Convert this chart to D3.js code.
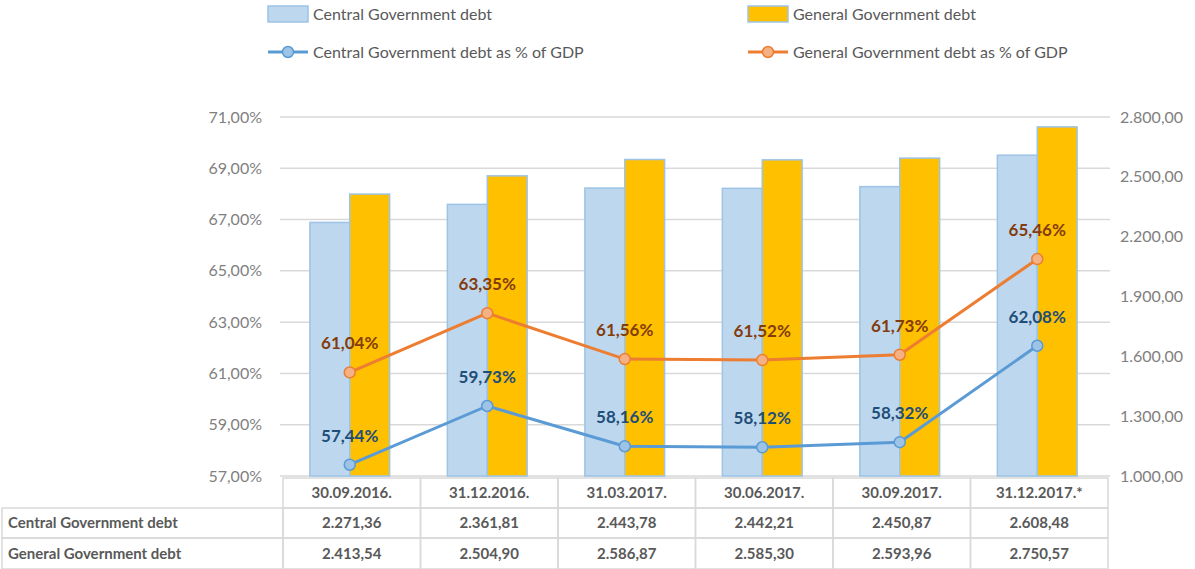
<!DOCTYPE html>
<html>
<head>
<meta charset="utf-8">
<script src="https://cdn.jsdelivr.net/npm/d3@7"></script>
<style>
  body { margin: 0; background: #fff; }
  svg { font-family: Lato, "Open Sans", sans-serif; }
</style>
</head>
<body>
<div id="chart"></div>
<script>
// data
const categories = ['30.09.2016.', '31.12.2016.', '31.03.2017.', '30.06.2017.', '30.09.2017.', '31.12.2017.*'];
const centralDebt = [2271.36, 2361.81, 2443.78, 2442.21, 2450.87, 2608.48];
const generalDebt = [2413.54, 2504.90, 2586.87, 2585.30, 2593.96, 2750.57];
const centralPct = [57.44, 59.73, 58.16, 58.12, 58.32, 62.08];
const generalPct = [61.04, 63.35, 61.56, 61.52, 61.73, 65.46];
const leftTicks = [57, 59, 61, 63, 65, 67, 69, 71];
const rightTicks = [1000, 1300, 1600, 1900, 2200, 2500, 2800];

const W = 1195, H = 569;
const plot = { left: 283, right: 1108, top: 117, bottom: 476 };

const svg = d3.select('#chart').append('svg')
    .attr('width', W).attr('height', H);

const x = d3.scaleBand().domain(categories).range([plot.left, plot.right]).padding(0);
const yL = d3.scaleLinear().domain([57, 71]).range([plot.bottom, plot.top]);
const yR = d3.scaleLinear().domain([1000, 2800]).range([plot.bottom, plot.top]);
const barW = x.bandwidth() * 0.29;
const cx = c => x(c) + x.bandwidth() / 2 - 2;

// number formatting with comma decimal and dot thousands
const loc = d3.formatLocale({ decimal: ',', thousands: '.', grouping: [3], currency: ['', ''] });
const fmtPct = v => loc.format(',.2f')(v) + '%';
const fmtNum = loc.format(',.2f');

// gridlines
svg.append('g').selectAll('line').data(leftTicks).join('line')
    .attr('x1', plot.left - 3).attr('x2', plot.right + 2)
    .attr('y1', d => yL(d)).attr('y2', d => yL(d))
    .attr('stroke', '#d9d9d9').attr('stroke-width', 1.5);

// left axis labels
svg.append('g').selectAll('text').data(leftTicks).join('text')
    .attr('x', 262).attr('y', d => yL(d)).attr('dy', '0.35em')
    .attr('text-anchor', 'end').attr('fill', '#7f7f7f').attr('font-size', 16)
    .text(d => loc.format('.2f')(d) + '%');

// right axis labels
svg.append('g').selectAll('text').data(rightTicks).join('text')
    .attr('x', 1120).attr('y', d => yR(d)).attr('dy', '0.35em')
    .attr('text-anchor', 'start').attr('fill', '#7f7f7f').attr('font-size', 16)
    .text(d => fmtNum(d));

// bars
const bars = svg.append('g');
bars.selectAll('rect.central').data(categories).join('rect')
    .attr('class', 'central')
    .attr('x', d => cx(d) - barW)
    .attr('y', (d, i) => yR(centralDebt[i]))
    .attr('width', barW)
    .attr('height', (d, i) => plot.bottom - yR(centralDebt[i]))
    .attr('fill', '#bdd7ee').attr('stroke', '#9dc3e6').attr('stroke-width', 1.5);
bars.selectAll('rect.general').data(categories).join('rect')
    .attr('class', 'general')
    .attr('x', d => cx(d))
    .attr('y', (d, i) => yR(generalDebt[i]))
    .attr('width', barW)
    .attr('height', (d, i) => plot.bottom - yR(generalDebt[i]))
    .attr('fill', '#ffc000').attr('stroke', '#9dc3e6').attr('stroke-width', 1.5);

// lines
const lineSeries = [
    { vals: centralPct, color: '#5b9bd5', marker: '#9dc3e6', label: '#1f4e79' },
    { vals: generalPct, color: '#ed7d31', marker: '#f4b183', label: '#843c0c' }
];
lineSeries.forEach(s => {
    const line = d3.line().x((d, i) => cx(categories[i])).y(d => yL(d));
    svg.append('path').datum(s.vals)
        .attr('d', line).attr('fill', 'none')
        .attr('stroke', s.color).attr('stroke-width', 3);
    svg.append('g').selectAll('circle').data(s.vals).join('circle')
        .attr('cx', (d, i) => cx(categories[i])).attr('cy', d => yL(d)).attr('r', 5.5)
        .attr('fill', s.marker).attr('stroke', s.color).attr('stroke-width', 1.5);
    svg.append('g').selectAll('text').data(s.vals).join('text')
        .attr('x', (d, i) => cx(categories[i])).attr('y', d => yL(d) - 23)
        .attr('text-anchor', 'middle').attr('font-weight', 'bold').attr('font-size', 17)
        .attr('fill', s.label)
        .text(d => fmtPct(d));
});

// data table
const rows = [
    { name: 'Central Government debt', vals: centralDebt },
    { name: 'General Government debt', vals: generalDebt }
];
const rowTop = [478, 508, 538];
const rowH = [30, 30, 31];
const table = svg.append('g').attr('font-weight', 'bold').attr('font-size', 15).attr('fill', '#595959');
const border = '#d9d9d9';
// header row
categories.forEach(c => {
    table.append('rect').attr('x', x(c)).attr('y', rowTop[0]).attr('width', x.bandwidth()).attr('height', rowH[0])
        .attr('fill', 'none').attr('stroke', border).attr('stroke-width', 1.5);
    table.append('text').attr('x', x(c) + x.bandwidth() / 2).attr('y', rowTop[0] + rowH[0] / 2).attr('dy', '0.35em')
        .attr('text-anchor', 'middle').text(c);
});
rows.forEach((r, ri) => {
    const ty = rowTop[ri + 1], th = rowH[ri + 1];
    table.append('rect').attr('x', 2).attr('y', ty).attr('width', plot.left - 2).attr('height', th)
        .attr('fill', 'none').attr('stroke', border).attr('stroke-width', 1.5);
    table.append('text').attr('x', 8).attr('y', ty + th / 2).attr('dy', '0.35em').text(r.name);
    categories.forEach((c, i) => {
        table.append('rect').attr('x', x(c)).attr('y', ty).attr('width', x.bandwidth()).attr('height', th)
            .attr('fill', 'none').attr('stroke', border).attr('stroke-width', 1.5);
        table.append('text').attr('x', x(c) + x.bandwidth() / 2).attr('y', ty + th / 2).attr('dy', '0.35em')
            .attr('text-anchor', 'middle').text(fmtNum(r.vals[i]));
    });
});

// legend
const legend = svg.append('g').attr('font-size', 16).attr('fill', '#595959');
const legendItems = [
    { name: 'Central Government debt', type: 'bar', fill: '#bdd7ee', col: 0, row: 0 },
    { name: 'General Government debt', type: 'bar', fill: '#ffc000', col: 1, row: 0 },
    { name: 'Central Government debt as % of GDP', type: 'line', color: '#5b9bd5', marker: '#9dc3e6', col: 0, row: 1 },
    { name: 'General Government debt as % of GDP', type: 'line', color: '#ed7d31', marker: '#f4b183', col: 1, row: 1 }
];
legendItems.forEach(it => {
    const lx = it.col === 0 ? 268 : 748;
    const ly = it.row === 0 ? 14 : 52;
    const g = legend.append('g').attr('transform', `translate(${lx},${ly})`);
    if (it.type === 'bar') {
        g.append('rect').attr('x', 0).attr('y', -8).attr('width', 40).attr('height', 16)
            .attr('fill', it.fill).attr('stroke', '#9dc3e6').attr('stroke-width', 1.5);
    } else {
        g.append('line').attr('x1', 0).attr('x2', 40).attr('y1', 0).attr('y2', 0)
            .attr('stroke', it.color).attr('stroke-width', 3);
        g.append('circle').attr('cx', 20).attr('cy', 0).attr('r', 5.5)
            .attr('fill', it.marker).attr('stroke', it.color).attr('stroke-width', 1.5);
    }
    g.append('text').attr('x', 45).attr('y', 0).attr('dy', '0.35em').text(it.name);
});
</script>
</body>
</html>
